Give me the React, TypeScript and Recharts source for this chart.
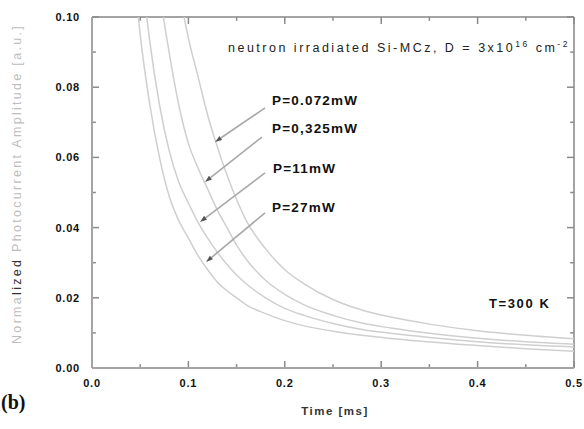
import React from "react";
import { LineChart, Line, XAxis, YAxis, ReferenceLine } from "recharts";

// Time axis (ms) and the normalized photocurrent decay for each light power
const timeMs = [0.04, 0.05, 0.06, 0.07, 0.08, 0.09, 0.1, 0.11, 0.12, 0.13, 0.14, 0.15, 0.16, 0.18, 0.2, 0.22, 0.25, 0.28, 0.31, 0.35, 0.4, 0.45, 0.5];
const p0072mW = [null, null, 0.17, 0.145, 0.125, 0.108, 0.094, 0.083, 0.072, 0.063, 0.055, 0.048, 0.042, 0.034, 0.028, 0.024, 0.0195, 0.0165, 0.0145, 0.0125, 0.0106, 0.0093, 0.0083];
const p0325mW = [null, 0.17, 0.135, 0.108, 0.09, 0.075, 0.064, 0.057, 0.051, 0.045, 0.04, 0.035, 0.031, 0.025, 0.021, 0.018, 0.015, 0.0128, 0.0114, 0.0099, 0.0085, 0.0075, 0.0068];
const p11mW = [0.16, 0.118, 0.093, 0.075, 0.062, 0.053, 0.047, 0.0415, 0.037, 0.033, 0.0295, 0.0265, 0.024, 0.02, 0.017, 0.015, 0.0127, 0.011, 0.0099, 0.0087, 0.0075, 0.0066, 0.006];
const p27mW = [0.125, 0.095, 0.075, 0.06, 0.049, 0.042, 0.037, 0.032, 0.028, 0.0245, 0.022, 0.02, 0.018, 0.0155, 0.0135, 0.012, 0.0105, 0.0093, 0.0084, 0.0074, 0.0064, 0.0055, 0.0048];

const seriesKeys = ["p0072", "p0325", "p11", "p27"];

const xTicks = [0, 0.05, 0.1, 0.15, 0.2, 0.25, 0.3, 0.35, 0.4, 0.45, 0.5];
const xMajor = [0, 0.1, 0.2, 0.3, 0.4, 0.5];
const yTicks = [0, 0.01, 0.02, 0.03, 0.04, 0.05, 0.06, 0.07, 0.08, 0.09, 0.1];
const yMajor = [0, 0.02, 0.04, 0.06, 0.08, 0.1];

const X_MAX = 0.5;
const Y_MAX = 0.1;
// inward tick lengths (long / short): x ticks measured in y units, y ticks in x units
const X_TICK_LEN = [0.002, 0.0011];
const Y_TICK_LEN = [0.0073, 0.004];

// Arrow tails (near the labels) and heads (on the curves), in data units
const arrowTail = [
  { x: 0.1795, y: 0.0741 },
  { x: 0.1763, y: 0.0658 },
  { x: 0.1795, y: 0.0556 },
  { x: 0.1795, y: 0.0442 },
];
const arrowHead = [
  { x: 0.1276, y: 0.0644 },
  { x: 0.1172, y: 0.053 },
  { x: 0.112, y: 0.0416 },
  { x: 0.1183, y: 0.0302 },
];

const rows = timeMs.map((t, i) => ({
  t,
  p0072: p0072mW[i],
  p0325: p0325mW[i],
  p11: p11mW[i],
  p27: p27mW[i],
}));

const FONT = "'Liberation Sans', Arial, sans-serif";
const AXIS = "#a4a4a4";
const TICK = "#8a8a8a";
const CURVE = "#cfcfcf";

const isIn = (v: number, list: number[]) => list.some((m) => Math.abs(m - v) < 1e-9);

const BottomLabel = (props: any) => {
  const { x, y, payload } = props;
  if (!isIn(payload.value, xMajor)) return null;
  return (
    <text x={x} y={y + 11} textAnchor="middle" fontFamily={FONT} fontWeight="bold" fontSize={11} letterSpacing={0.8} fill="#111">
      {payload.value.toFixed(1)}
    </text>
  );
};

const LeftLabel = (props: any) => {
  const { x, y, payload } = props;
  if (!isIn(payload.value, yMajor)) return null;
  return (
    <text x={x} y={y + 4} textAnchor="end" fontFamily={FONT} fontWeight="bold" fontSize={11} letterSpacing={0.8} fill="#111">
      {payload.value.toFixed(2)}
    </text>
  );
};

const Arrow = (props: any) => {
  const { x1, y1, x2, y2 } = props;
  if ([x1, y1, x2, y2].some((v) => v == null || isNaN(v))) return null;
  const ang = Math.atan2(y2 - y1, x2 - x1);
  const len = 7;
  const w = 2.4;
  const bx = x2 - len * Math.cos(ang);
  const by = y2 - len * Math.sin(ang);
  const px = -Math.sin(ang) * w;
  const py = Math.cos(ang) * w;
  return (
    <g>
      <line x1={x1} y1={y1} x2={bx} y2={by} stroke="#a8a8a8" strokeWidth={1.6} />
      <polygon points={`${x2},${y2} ${bx + px},${by + py} ${bx - px},${by - py}`} fill="#555" />
    </g>
  );
};

// inward tick marks on all four sides of the frame
const tickSegments = [
  ...xTicks.flatMap((v) => {
    const l = isIn(v, xMajor) ? X_TICK_LEN[0] : X_TICK_LEN[1];
    return [
      [{ x: v, y: 0 }, { x: v, y: l }],
      [{ x: v, y: Y_MAX }, { x: v, y: Y_MAX - l }],
    ];
  }),
  ...yTicks.flatMap((v) => {
    const l = isIn(v, yMajor) ? Y_TICK_LEN[0] : Y_TICK_LEN[1];
    return [
      [{ x: 0, y: v }, { x: l, y: v }],
      [{ x: X_MAX, y: v }, { x: X_MAX - l, y: v }],
    ];
  }),
];

const powerLabels = [
  { text: "P=0.072mW", x: 272, y: 105 },
  { text: "P=0,325mW", x: 272, y: 133 },
  { text: "P=11mW", x: 273, y: 173 },
  { text: "P=27mW", x: 272, y: 212 },
];

export default function App() {
  return (
    <div style={{ position: "absolute", left: 0, top: 0, width: 584, height: 429, background: "#fff" }}>
      <LineChart width={584} height={429} data={rows} margin={{ top: 17, right: 10, bottom: 31, left: 32 }}>
        <XAxis
          dataKey="t"
          type="number"
          domain={[0, X_MAX]}
          ticks={xTicks}
          interval={0}
          height={30}
          tickSize={0}
          tickMargin={8}
          tick={<BottomLabel />}
          axisLine={{ stroke: AXIS, strokeWidth: 2 }}
          allowDataOverflow
        />
        <YAxis
          type="number"
          domain={[0, Y_MAX]}
          ticks={yTicks}
          interval={0}
          width={60}
          tickSize={0}
          tickMargin={12}
          tick={<LeftLabel />}
          axisLine={{ stroke: AXIS, strokeWidth: 2 }}
          allowDataOverflow
        />
        {/* top and right edges of the frame */}
        <ReferenceLine y={Y_MAX} stroke={AXIS} strokeWidth={2} ifOverflow="visible" />
        <ReferenceLine x={X_MAX} stroke={AXIS} strokeWidth={2} ifOverflow="visible" />
        {tickSegments.map((seg, i) => (
          <ReferenceLine key={`t${i}`} segment={seg} stroke={TICK} strokeWidth={1.5} ifOverflow="visible" />
        ))}
        {seriesKeys.map((k) => (
          <Line
            key={k}
            dataKey={k}
            type="monotone"
            stroke={CURVE}
            strokeWidth={1.5}
            dot={false}
            activeDot={false}
            isAnimationActive={false}
          />
        ))}
        {arrowTail.map((from, i) => (
          <ReferenceLine key={`a${i}`} segment={[from, arrowHead[i]]} ifOverflow="visible" shape={<Arrow />} />
        ))}
      </LineChart>

      <svg width={584} height={429} style={{ position: "absolute", left: 0, top: 0, pointerEvents: "none" }}>
        <text
          transform="translate(21,184) rotate(-90)"
          textAnchor="middle"
          fontFamily={FONT}
          fontSize={12.5}
          letterSpacing={2.3}
          fill="#bdbdbd"
        >
          Norma<tspan fill="#333">lized</tspan> Photocurrent Amplitude [a.u.]
        </text>
        <text x={335} y={415} textAnchor="middle" fontFamily={FONT} fontSize={11.5} fontWeight="bold" letterSpacing={1.5} fill="#333">
          Time [ms]
        </text>
        <text x={1} y={409} fontFamily="'Liberation Serif', 'DejaVu Serif', serif" fontWeight="bold" fontSize={20} fill="#111">
          (b)
        </text>
        <text x={228} y={52} fontFamily={FONT} fontSize={12.5} letterSpacing={2.5} fill="#222">
          neutron irradiated Si-MCz, D = 3x10
          <tspan dy={-5} fontSize={8.5}>16</tspan>
          <tspan dy={5}> cm</tspan>
          <tspan dy={-5} fontSize={8.5}>-2</tspan>
        </text>
        {powerLabels.map((p) => (
          <text key={p.text} x={p.x} y={p.y} fontFamily={FONT} fontSize={13.5} fontWeight="bold" letterSpacing={1.2} fill="#111">
            {p.text}
          </text>
        ))}
        <text x={489} y={308} fontFamily={FONT} fontSize={13} fontWeight="bold" letterSpacing={1.6} fill="#111">
          T=300 K
        </text>
      </svg>
    </div>
  );
}
